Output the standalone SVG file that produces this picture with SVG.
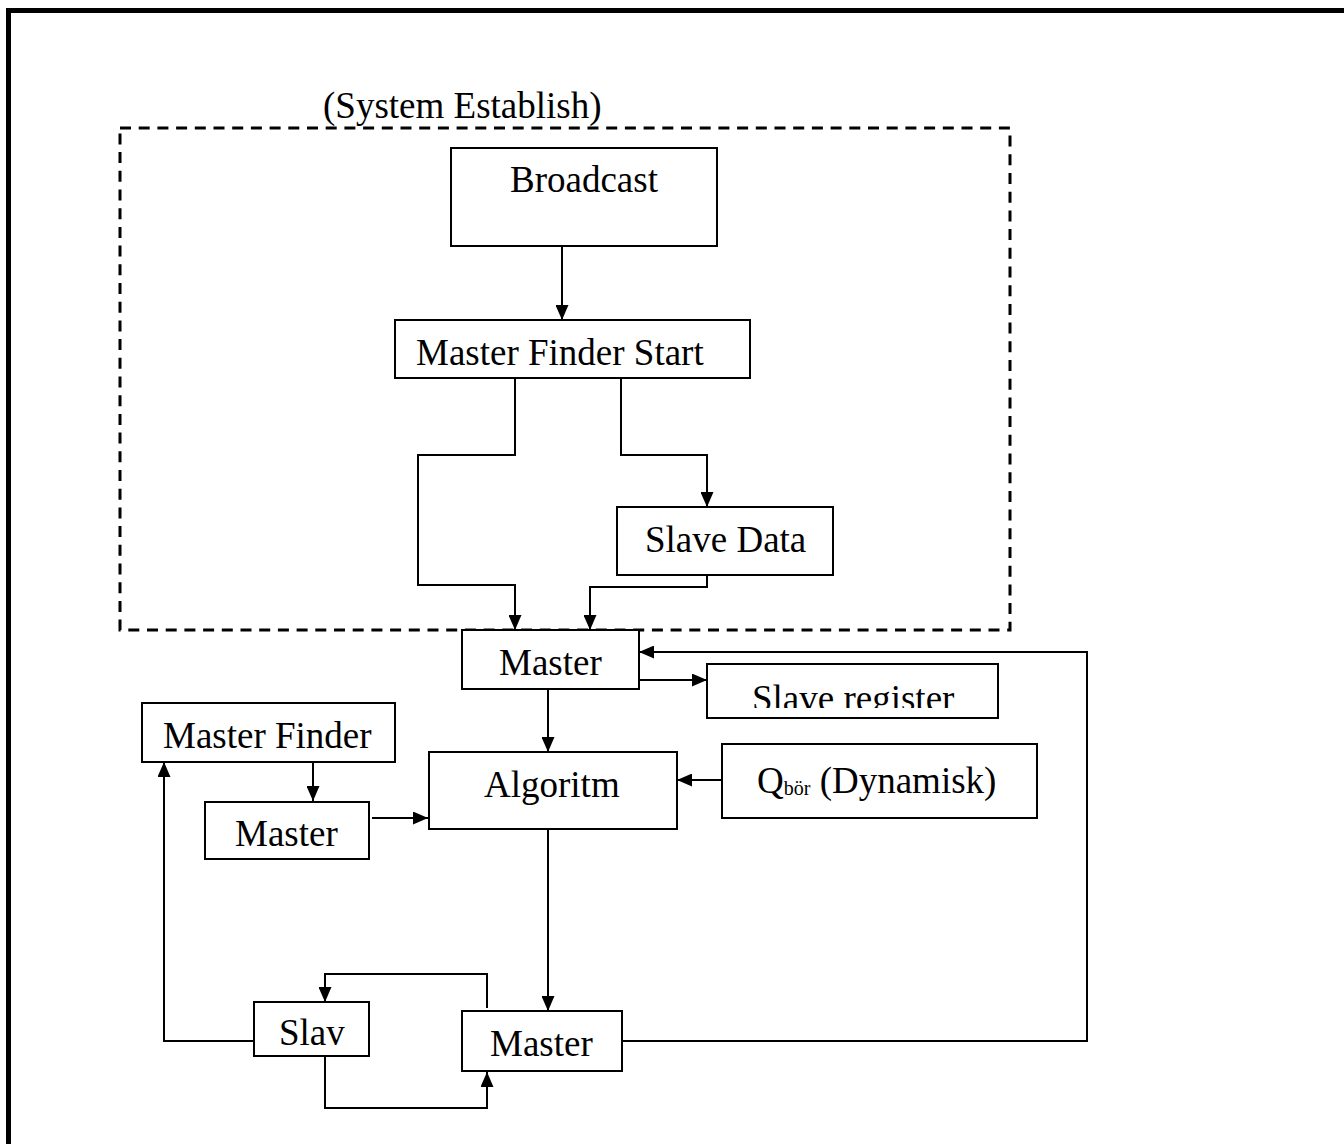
<svg xmlns="http://www.w3.org/2000/svg" width="1344" height="1144" viewBox="0 0 1344 1144">
<defs>
<style>
.box{fill:#fff;stroke:#000;stroke-width:2}
.t{font-family:"Liberation Serif","Times New Roman",serif;font-size:37px;fill:#000}
.c{fill:none;stroke:#000;stroke-width:2}
</style>
<marker id="ah" viewBox="0 0 15 13" refX="15" refY="6.5" markerWidth="15" markerHeight="13" markerUnits="userSpaceOnUse" orient="auto">
<path d="M0,0 L15,6.5 L0,13 Z" fill="#000"/>
</marker>
<clipPath id="clipSR"><rect x="708" y="665" width="289" height="43"/></clipPath>
</defs>
<rect width="1344" height="1144" fill="#fff"/>
<rect x="8.5" y="10.5" width="1400" height="1200" fill="none" stroke="#000" stroke-width="5"/>
<g id="system-establish">
<rect x="120" y="128" width="890" height="502" fill="none" stroke="#000" stroke-width="3" stroke-dasharray="11,7.7"/>
<text class="t" x="323" y="118">(System Establish)</text>
</g>
<g id="connectors">
<path class="c" d="M562,246 V320" marker-end="url(#ah)"/>
<path class="c" d="M515,378 V455 H418 V585 H515 V630" marker-end="url(#ah)"/>
<path class="c" d="M621,378 V455 H707 V507" marker-end="url(#ah)"/>
<path class="c" d="M707,575 V587 H590 V630" marker-end="url(#ah)"/>
<path class="c" d="M638,680 H707" marker-end="url(#ah)"/>
<path class="c" d="M548,688 V752" marker-end="url(#ah)"/>
<path class="c" d="M722,780 H677" marker-end="url(#ah)"/>
<path class="c" d="M313,762 V801" marker-end="url(#ah)"/>
<path class="c" d="M372,818 H428" marker-end="url(#ah)"/>
<path class="c" d="M548,829 V1011" marker-end="url(#ah)"/>
<path class="c" d="M622,1041 H1087 V652 H639" marker-end="url(#ah)"/>
<path class="c" d="M254,1041 H164 V762" marker-end="url(#ah)"/>
<path class="c" d="M487,1008 V974 H325 V1002" marker-end="url(#ah)"/>
<path class="c" d="M325,1056 V1108 H487 V1072" marker-end="url(#ah)"/>
</g>
<g id="broadcast">
<rect class="box" x="451" y="148" width="266" height="98"/>
<text class="t" x="510" y="192">Broadcast</text>
</g>
<g id="master-finder-start">
<rect class="box" x="395" y="320" width="355" height="58"/>
<text class="t" x="416" y="365">Master Finder Start</text>
</g>
<g id="slave-data">
<rect class="box" x="617" y="507" width="216" height="68"/>
<text class="t" x="645" y="552">Slave Data</text>
</g>
<g id="master-top">
<rect class="box" x="462" y="630" width="177" height="59"/>
<text class="t" x="499" y="675">Master</text>
</g>
<g id="slave-register">
<rect class="box" x="707" y="664" width="291" height="54"/>
<text class="t" x="752" y="711" clip-path="url(#clipSR)">Slave register</text>
</g>
<g id="algoritm">
<rect class="box" x="429" y="752" width="248" height="77"/>
<text class="t" x="484" y="797">Algoritm</text>
</g>
<g id="q-bor">
<rect class="box" x="722" y="744" width="315" height="74"/>
<text class="t" x="757" y="793">Q<tspan font-size="20" dy="2">bör</tspan><tspan dy="-2"> (Dynamisk)</tspan></text>
</g>
<g id="master-finder">
<rect class="box" x="142" y="703" width="253" height="59"/>
<text class="t" x="163" y="748">Master Finder</text>
</g>
<g id="master-left">
<rect class="box" x="205" y="802" width="164" height="57"/>
<text class="t" x="235" y="846">Master</text>
</g>
<g id="slav">
<rect class="box" x="254" y="1002" width="115" height="54"/>
<text class="t" x="279" y="1045">Slav</text>
</g>
<g id="master-bottom">
<rect class="box" x="462" y="1011" width="160" height="60"/>
<text class="t" x="490" y="1056">Master</text>
</g>
</svg>
